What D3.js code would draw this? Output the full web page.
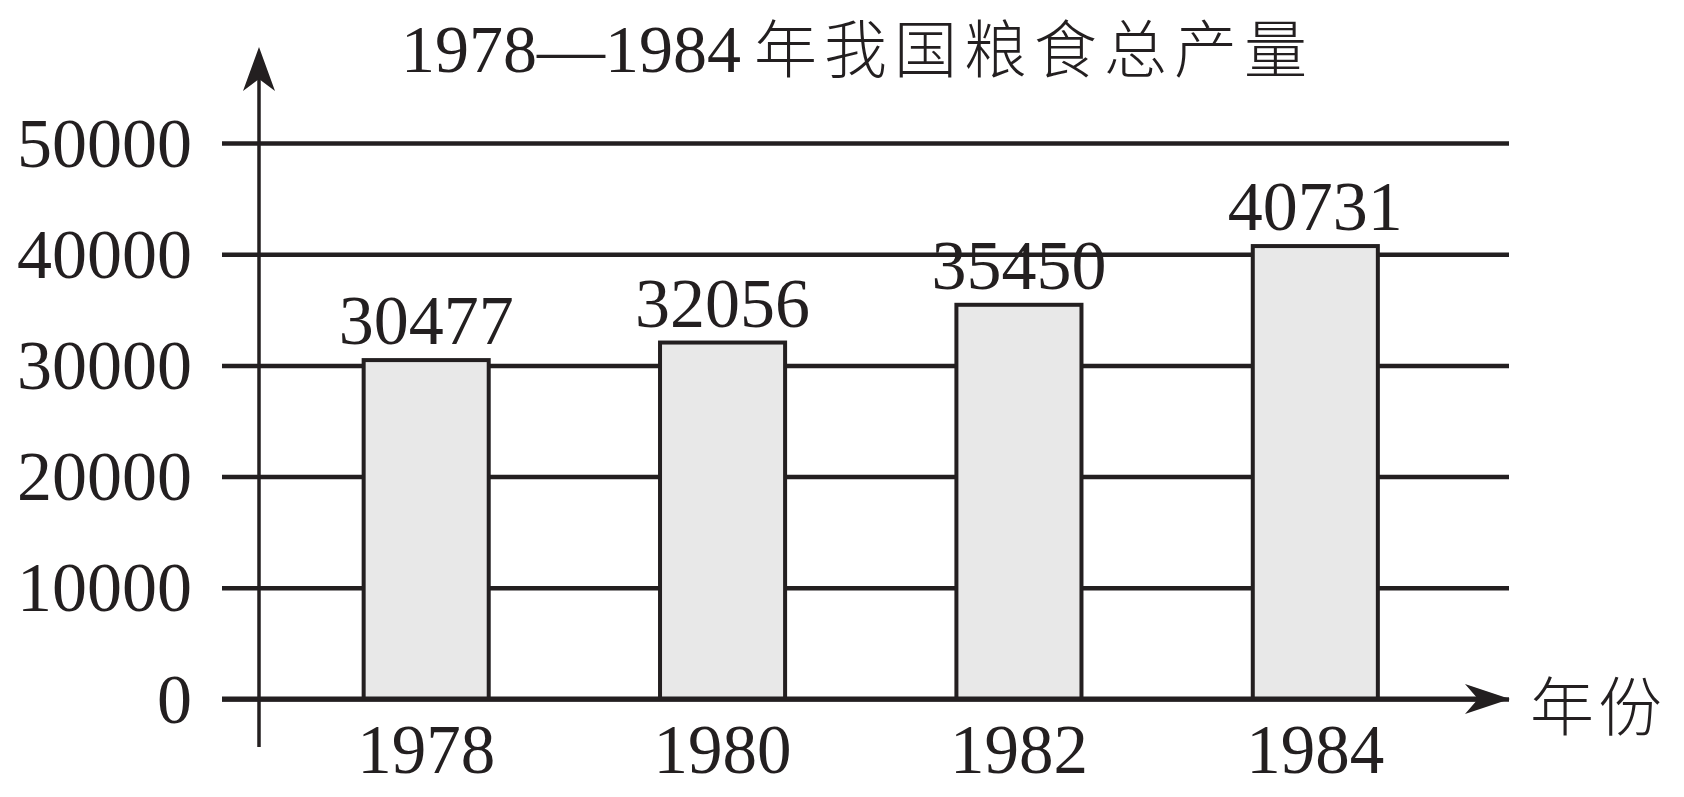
<!DOCTYPE html>
<html>
<head>
<meta charset="utf-8">
<script src="https://cdn.jsdelivr.net/npm/d3@7"></script>
<style>
  html, body { margin: 0; padding: 0; background: #fff; }
  svg { display: block; }
</style>
</head>
<body>
<svg id="chart" width="1684" height="797"></svg>
<script>
const titleNum = "1978—1984";
const titleCjk = "年我国粮食总产量";
const xAxisLabel = "年份";
const years = ["1978", "1980", "1982", "1984"];
const production = [30477, 32056, 35450, 40731];
const yTicks = [0, 10000, 20000, 30000, 40000, 50000];

const ink = "#231f20";
const serif = "'Liberation Serif', 'Times New Roman', serif";
const cjk = "'Noto Sans CJK SC', 'Noto Sans CJK JP', sans-serif";

const svg = d3.select("#chart");

const x = d3.scaleBand().domain(years).range([278, 1463.5])
  .paddingInner(0.578).paddingOuter(0.289);
const y = d3.scaleLinear().domain([0, 50000]).range([699, 143]);

const gridLeft = 222, gridRight = 1509, axisX = 259;

// Gridlines + y tick labels
const yAxis = d3.axisLeft(y).tickValues(yTicks).tickFormat(d => String(d))
  .tickSize(gridRight - gridLeft).tickPadding(30);
const gy = svg.append("g").attr("transform", `translate(${gridRight},0)`).call(yAxis);
gy.select(".domain").remove();
gy.selectAll(".tick line").attr("stroke", ink).attr("stroke-width", 4.5);
gy.selectAll(".tick text").attr("fill", ink).attr("font-family", serif)
  .attr("font-size", 70).attr("dy", null).attr("y", 23);

// Bars
svg.append("g").selectAll("rect").data(years).join("rect")
  .attr("x", d => x(d))
  .attr("y", (d, i) => y(production[i]))
  .attr("width", x.bandwidth())
  .attr("height", (d, i) => y(0) - y(production[i]))
  .attr("fill", "#e8e8e8").attr("stroke", ink).attr("stroke-width", 4);

// Value labels
svg.append("g").selectAll("text").data(years).join("text")
  .attr("x", d => x(d) + x.bandwidth() / 2)
  .attr("y", (d, i) => y(production[i]) - 16)
  .attr("text-anchor", "middle").attr("fill", ink)
  .attr("font-family", serif).attr("font-size", 70)
  .text((d, i) => production[i]);

// x axis line (zero line redrawn on top) + arrow
svg.append("line").attr("x1", gridLeft).attr("x2", gridRight - 20)
  .attr("y1", y(0)).attr("y2", y(0)).attr("stroke", ink).attr("stroke-width", 5);
svg.append("path")
  .attr("d", `M${gridRight + 1},${y(0)} L${gridRight - 44},${y(0) - 15} L${gridRight - 31},${y(0)} L${gridRight - 44},${y(0) + 15} Z`)
  .attr("fill", ink);

// x tick labels
const xAxis = d3.axisBottom(x).tickSize(0).tickPadding(25);
const gx = svg.append("g").attr("transform", `translate(0,${y(0)})`).call(xAxis);
gx.select(".domain").remove();
gx.selectAll(".tick text").attr("fill", ink).attr("font-family", serif).attr("font-size", 69);

// y axis line + arrow
svg.append("line").attr("x1", axisX).attr("x2", axisX)
  .attr("y1", 747).attr("y2", 70).attr("stroke", ink).attr("stroke-width", 3.5);
svg.append("path")
  .attr("d", `M${axisX},47 L${axisX - 16},91 L${axisX},79 L${axisX + 16},91 Z`)
  .attr("fill", ink);

// x axis title
svg.append("text").attr("x", 1530).attr("y", y(0) + 3)
  .attr("dominant-baseline", "central")
  .attr("font-family", cjk).attr("font-weight", 300).attr("font-size", 64)
  .attr("letter-spacing", 4).attr("fill", ink).text(xAxisLabel);

// Title
const t = svg.append("text").attr("x", 401).attr("y", 72).attr("fill", ink);
t.append("tspan").attr("font-family", serif).attr("font-size", 68).text(titleNum);
t.append("tspan").attr("dx", 13).attr("font-family", cjk).attr("font-weight", 300)
  .attr("font-size", 63).attr("letter-spacing", 7).text(titleCjk);
</script>
</body>
</html>
